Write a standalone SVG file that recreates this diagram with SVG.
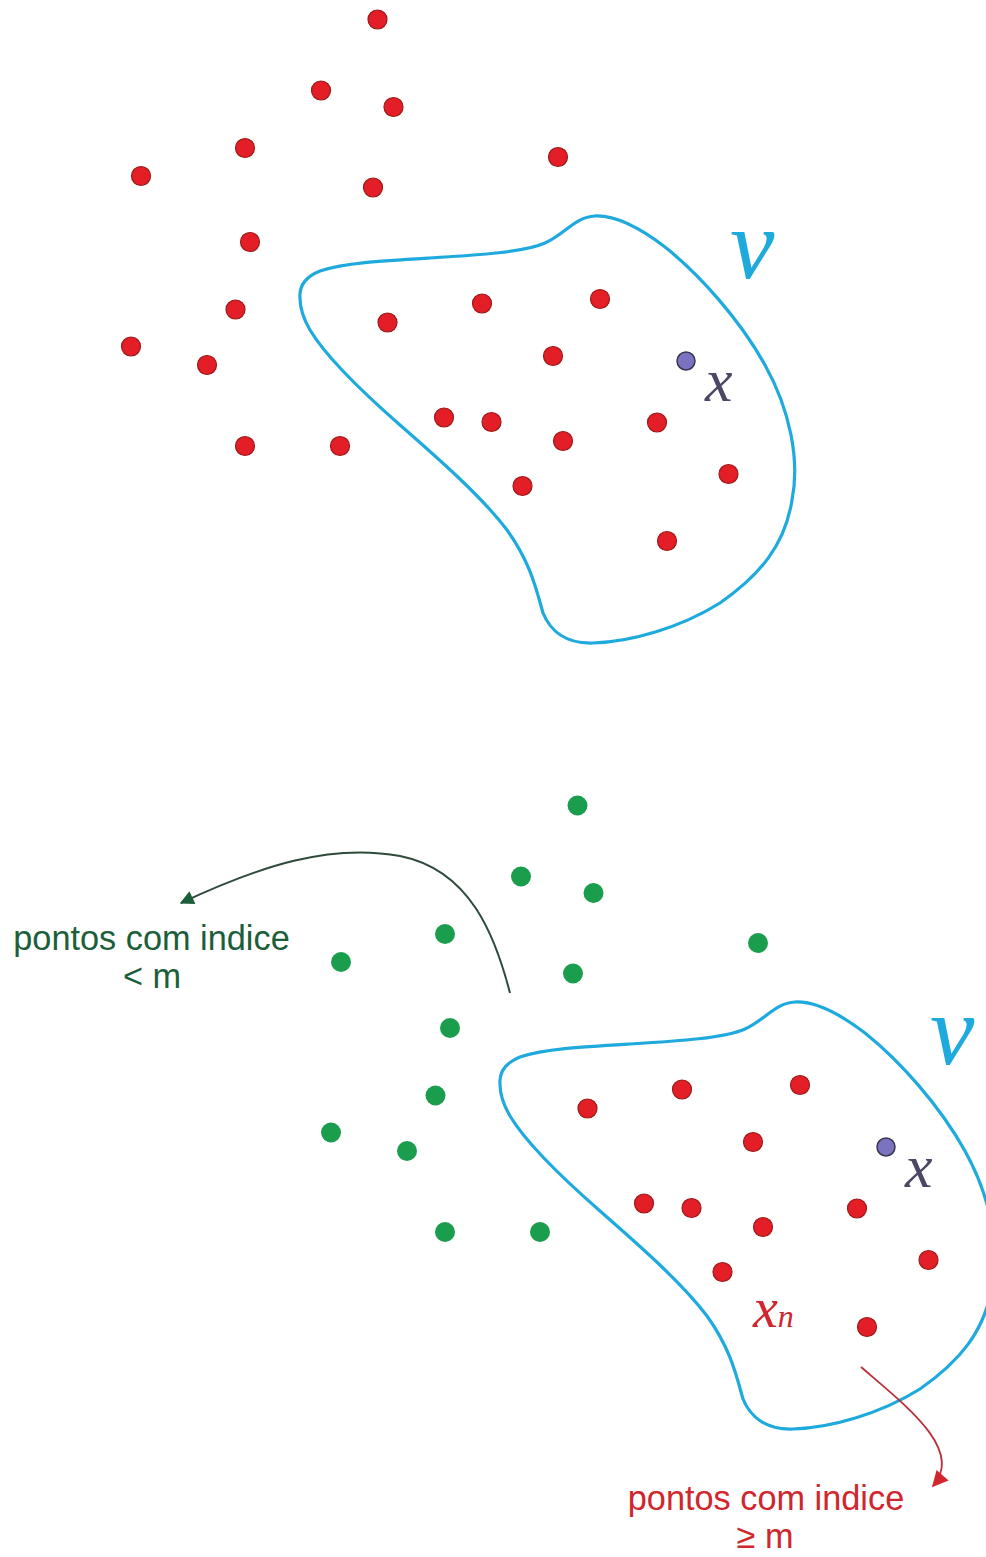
<svg xmlns="http://www.w3.org/2000/svg" width="986" height="1557" viewBox="0 0 986 1557">
<style>
.red{fill:#e41e26;stroke:#9c1a1a;stroke-width:1.2}
.grn{fill:#1a9e4e}
.pur{fill:#7a74c0;stroke:#3a3550;stroke-width:1.5}
.blob{fill:none;stroke:#1eaadc;stroke-width:3.2}
.vlab{font-family:"Liberation Serif",serif;font-style:italic;font-size:100px;fill:#1eaadc}
.xlab{font-family:"Liberation Serif",serif;font-style:italic;font-size:62px;fill:#4a4866}
.gtxt{font-family:"Liberation Sans",Arial,sans-serif;font-size:34.3px;fill:#1d5e3a;text-anchor:middle}
.rtxt{font-family:"Liberation Sans",Arial,sans-serif;font-size:34.3px;fill:#d0262e;text-anchor:middle}
</style>
<defs>
<path id="blobshape" d="M300,298 C299,286 305,277 320,271 C345,263 380,261 430,258 C480,255 525,252 545,243 C565,234 575,217 595,216 C615,215 640,228 665,247 C700,275 740,320 765,365 C790,410 800,460 792,500 C785,545 760,575 720,603 C680,628 630,642 593,643 C565,644 550,630 543,613 C536,588 530,562 507,530 C482,497 440,460 400,425 C360,390 325,355 310,330 C303,318 300,308 300,298 Z"/>
<marker id="ahg" viewBox="0 0 10 10" refX="9" refY="5" markerWidth="19" markerHeight="14" orient="auto" markerUnits="userSpaceOnUse"><path d="M0,0 L10,5 L0,10 Z" fill="#1d5e3a"/></marker>
<marker id="ahr" viewBox="0 0 10 10" refX="9" refY="5" markerWidth="19" markerHeight="16" orient="auto" markerUnits="userSpaceOnUse"><path d="M0,0 L10,5 L0,10 Z" fill="#d0262e"/></marker>
</defs>
<rect width="986" height="1557" fill="#ffffff"/>

<g id="top-panel">
<use id="top-blob" href="#blobshape" class="blob"/>
<text id="top-V" class="vlab" x="730" y="278">v</text>
<g id="top-dots-out">
<circle class="red" cx="377.5" cy="19.5" r="9.5"/>
<circle class="red" cx="321" cy="90.5" r="9.5"/>
<circle class="red" cx="393.5" cy="107" r="9.5"/>
<circle class="red" cx="558" cy="157" r="9.5"/>
<circle class="red" cx="245" cy="148" r="9.5"/>
<circle class="red" cx="141" cy="176" r="9.5"/>
<circle class="red" cx="373" cy="187.5" r="9.5"/>
<circle class="red" cx="250" cy="242" r="9.5"/>
<circle class="red" cx="235.5" cy="309.5" r="9.5"/>
<circle class="red" cx="131" cy="346.5" r="9.5"/>
<circle class="red" cx="207" cy="365" r="9.5"/>
<circle class="red" cx="245" cy="446" r="9.5"/>
<circle class="red" cx="340" cy="446" r="9.5"/>
</g>
<g id="top-dots-in">
<circle class="red" cx="387.5" cy="322.5" r="9.5"/>
<circle class="red" cx="482" cy="303.5" r="9.5"/>
<circle class="red" cx="600" cy="299" r="9.5"/>
<circle class="red" cx="553" cy="356" r="9.5"/>
<circle class="red" cx="444" cy="417.5" r="9.5"/>
<circle class="red" cx="491.5" cy="422" r="9.5"/>
<circle class="red" cx="563" cy="441" r="9.5"/>
<circle class="red" cx="657" cy="422.5" r="9.5"/>
<circle class="red" cx="728.5" cy="474" r="9.5"/>
<circle class="red" cx="522.5" cy="486" r="9.5"/>
<circle class="red" cx="667" cy="541" r="9.5"/>
</g>
<g id="top-x">
<circle class="pur" cx="686" cy="361" r="9"/>
<text class="xlab" x="705" y="401">x</text>
</g>
</g>

<g id="bottom-panel">
<use id="bottom-blob" href="#blobshape" class="blob" transform="translate(200,786)"/>
<text id="bottom-V" class="vlab" x="930" y="1064">v</text>
<g id="bottom-dots-out">
<circle class="grn" cx="577.5" cy="805.5" r="10"/>
<circle class="grn" cx="521" cy="876.5" r="10"/>
<circle class="grn" cx="593.5" cy="893" r="10"/>
<circle class="grn" cx="758" cy="943" r="10"/>
<circle class="grn" cx="445" cy="934" r="10"/>
<circle class="grn" cx="341" cy="962" r="10"/>
<circle class="grn" cx="573" cy="973.5" r="10"/>
<circle class="grn" cx="450" cy="1028" r="10"/>
<circle class="grn" cx="435.5" cy="1095.5" r="10"/>
<circle class="grn" cx="331" cy="1132.5" r="10"/>
<circle class="grn" cx="407" cy="1151" r="10"/>
<circle class="grn" cx="445" cy="1232" r="10"/>
<circle class="grn" cx="540" cy="1232" r="10"/>
</g>
<g id="bottom-dots-in">
<circle class="red" cx="587.5" cy="1108.5" r="9.5"/>
<circle class="red" cx="682" cy="1089.5" r="9.5"/>
<circle class="red" cx="800" cy="1085" r="9.5"/>
<circle class="red" cx="753" cy="1142" r="9.5"/>
<circle class="red" cx="644" cy="1203.5" r="9.5"/>
<circle class="red" cx="691.5" cy="1208" r="9.5"/>
<circle class="red" cx="763" cy="1227" r="9.5"/>
<circle class="red" cx="857" cy="1208.5" r="9.5"/>
<circle class="red" cx="928.5" cy="1260" r="9.5"/>
<circle class="red" cx="722.5" cy="1272" r="9.5"/>
<circle class="red" cx="867" cy="1327" r="9.5"/>
</g>
<g id="bottom-x">
<circle class="pur" cx="886" cy="1147" r="9"/>
<text class="xlab" x="905" y="1187">x</text>
</g>
<g id="xn-label">
<text font-family="Liberation Serif, serif" font-style="italic" font-size="56" fill="#d0262e" x="753" y="1327">x<tspan font-size="32">n</tspan></text>
</g>
<g id="label-lt-m">
<text class="gtxt" x="151.5" y="950">pontos com indice</text>
<text class="gtxt" x="152" y="988">&lt; m</text>
</g>
<g id="label-ge-m">
<text class="rtxt" x="766" y="1510">pontos com indice</text>
<text class="rtxt" x="765" y="1548">≥ m</text>
</g>
</g>

<g id="connectors">
<path d="M510,993 C495,935 470,870 400,856 C330,843 260,866 181,903" fill="none" stroke="#2d4a3a" stroke-width="2" marker-end="url(#ahg)"/>
<path d="M861,1367 C905,1405 965,1450 933,1486" fill="none" stroke="#b8303a" stroke-width="1.8" marker-end="url(#ahr)"/>
</g>
</svg>
